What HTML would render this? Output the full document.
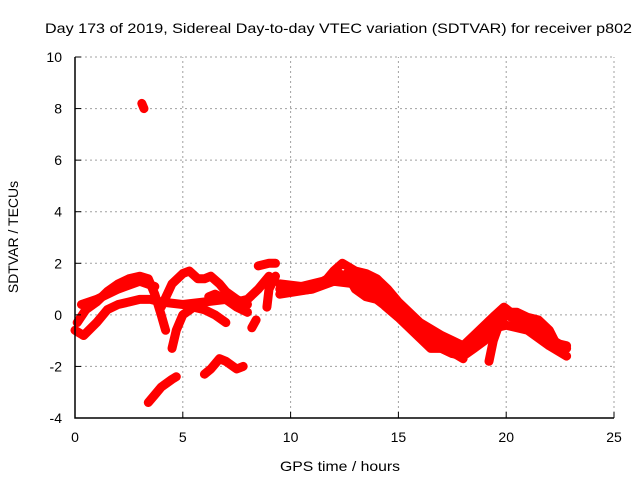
<!DOCTYPE html>
<html><head><meta charset="utf-8"><style>
body{margin:0;background:#fff;}
svg{display:block;font-family:"Liberation Sans",sans-serif;}
</style></head><body>
<svg id="chart" width="640" height="480" viewBox="0 0 640 480">
<rect width="640" height="480" fill="#fff"/>
<text x="45" y="33" font-size="14" textLength="587" lengthAdjust="spacingAndGlyphs">Day 173 of 2019, Sidereal Day-to-day VTEC variation (SDTVAR) for receiver p802</text>
<g id="grid"></g><g id="data"></g><g id="axes"></g>
<text x="280" y="471" font-size="14" textLength="120" lengthAdjust="spacingAndGlyphs">GPS time / hours</text>
<text x="18" y="237" font-size="14" text-anchor="middle" transform="rotate(-90 18 237)">SDTVAR / TECUs</text>
</svg>
<script>
const xTicks=[0,5,10,15,20,25];
const yTicks=[-4,-2,0,2,4,6,8,10];
const trackA=[[0.1,-0.3],[0.5,0.2],[1,0.5],[1.5,0.9],[2,1.2],[2.5,1.4],[3,1.5],[3.4,1.4],[3.7,0.8],[4,0],[4.2,-0.6]];
const trackB=[[0,-0.6],[0.4,-0.8],[1,-0.3],[1.5,0.2],[2,0.4],[2.5,0.5],[3,0.6],[3.5,0.6],[4,0.5],[5,0.4],[6,0.5],[7,0.6],[7.5,0.5],[8,0.6],[8.5,1.0],[9,1.5]];
const trackC=[[0.3,0.4],[1,0.6],[2,1.0],[3,1.3],[3.7,1.1]];
const trackD=[[4,0.3],[4.5,1.2],[5,1.6],[5.3,1.7],[5.7,1.4],[6,1.4],[6.3,1.5],[6.7,1.2],[7,0.9],[7.5,0.6],[8,0.4]];
const trackE=[[4.5,-1.3],[4.7,-0.6],[5,0],[5.5,0.3],[6,0.2],[6.5,0],[7,-0.3]];
const trackF=[[6.2,0.7],[6.5,0.8],[7,0.6],[7.5,0.3],[8,0.1]];
const trackG=[[3.4,-3.4],[3.7,-3.1],[4,-2.8],[4.5,-2.5],[4.7,-2.4]];
const trackH=[[6,-2.3],[6.3,-2.1],[6.7,-1.7],[7,-1.8],[7.5,-2.1],[7.8,-2.0]];
const trackI=[[3.1,8.2],[3.2,8.0]];
const trackJ=[[8.5,1.9],[9,2.0],[9.3,2.0]];
const trackK=[[8.4,-0.2],[8.2,-0.5]];
const trackL=[[8.9,0.3],[9,1.0],[9.3,1.5]];
const trackM=[[9.5,1.0],[10,0.9],[11,1.0],[11.5,1.2],[12,1.7],[12.4,2.0],[13,1.7],[13.5,1.6],[14,1.4],[14.5,1.0],[15,0.5],[16,-0.3],[17,-0.8],[17.5,-1.0],[18,-1.2],[18.5,-0.8],[19,-0.4],[19.5,0.0],[19.9,0.3],[20.2,0.1],[20.5,0.1],[21,-0.1],[21.5,-0.2],[22,-0.6],[22.3,-1.1],[22.8,-1.2]];
const trackN=[[9.5,0.8],[11,1.0],[12,1.3],[13,1.2],[14,0.8],[15,0.3],[16,-0.5],[16.5,-0.9],[17,-1.3],[17.5,-1.5],[18,-1.6],[18.5,-1.3],[19,-1.0],[19.5,-0.5],[20,-0.4],[21,-0.6],[22,-1.2],[22.8,-1.6]];
const trackO=[[12.6,1.6],[13,1.0],[13.5,0.7],[14,0.6],[14.3,0.4],[15,-0.1],[16,-0.9],[16.5,-1.3],[17,-1.3],[17.5,-1.5]];
const trackP=[[19.2,-1.8],[19.4,-1.0],[19.7,-0.3],[20,0],[20.5,-0.2],[21,-0.3],[21.5,-0.6],[22,-1.0]];
const trackQ=[[17.2,-1.2],[17.6,-1.5],[18,-1.7]];
const trackR=[[9.5,1.2],[10.5,1.1],[11.5,1.3],[12.2,1.6],[13,1.4],[14,1.1],[15,0.2],[16,-0.6],[17,-1.0],[18,-1.4],[19,-0.7],[20,0.1],[21,-0.3],[22,-0.9],[22.8,-1.3]];
const tracks=[trackA,trackB,trackC,trackD,trackE,trackF,trackG,trackH,trackI,trackJ,trackK,trackL,trackM,trackN,trackO,trackP,trackQ,trackR];
const X0=75,X1=614,Y0=418,Y1=57,xMin=0,xMax=25,yMin=-4,yMax=10;
function xs(v){return X0+(v-xMin)/(xMax-xMin)*(X1-X0);}
function ys(v){return Y0-(v-yMin)/(yMax-yMin)*(Y0-Y1);}
const NS='http://www.w3.org/2000/svg';
function mk(tag,attrs,parent){const e=document.createElementNS(NS,tag);for(const k in attrs)e.setAttribute(k,attrs[k]);parent.appendChild(e);return e;}
const grid=document.getElementById('grid'),axes=document.getElementById('axes'),data=document.getElementById('data');
xTicks.forEach(t=>{const x=xs(t);
 if(t>xMin){const g=mk('line',{x1:x,y1:Y0,x2:x,y2:Y1,stroke:'#a0a0a0','stroke-dasharray':'2,3','stroke-width':1},grid);
 
 }
 const tk=mk('line',{x1:x,y1:Y0,x2:x,y2:Y0-6,stroke:'#000'},axes);
 
 
 const lb=mk('text',{x:x,y:Y0+24,'font-size':14,'text-anchor':'middle'},axes);lb.textContent=t;
 
 });
yTicks.forEach(t=>{const y=ys(t);
 if(t>yMin){const g=mk('line',{x1:X0,y1:y,x2:X1,y2:y,stroke:'#a0a0a0','stroke-dasharray':'2,3','stroke-width':1},grid);
 
 }
 const tk=mk('line',{x1:X0,y1:y,x2:X0+6,y2:y,stroke:'#000'},axes);
 
 
 const lb=mk('text',{x:X0-13,y:y+5,'font-size':14,'text-anchor':'end'},axes);lb.textContent=t;
 
 });
const ax=mk('path',{d:`M${X0},${Y1}V${Y0}H${X1}`,fill:'none',stroke:'#000','stroke-width':1.5},axes);


tracks.forEach(tr=>{
 const d=tr.map((p,i)=>(i?'L':'M')+xs(p[0]).toFixed(1)+','+ys(p[1]).toFixed(1)).join('');
 const pl=mk('path',{d:d,fill:'none',stroke:'#ff0000','stroke-width':9,'stroke-linejoin':'round','stroke-linecap':'round'},data);
 
 
});
</script>
</body></html>
